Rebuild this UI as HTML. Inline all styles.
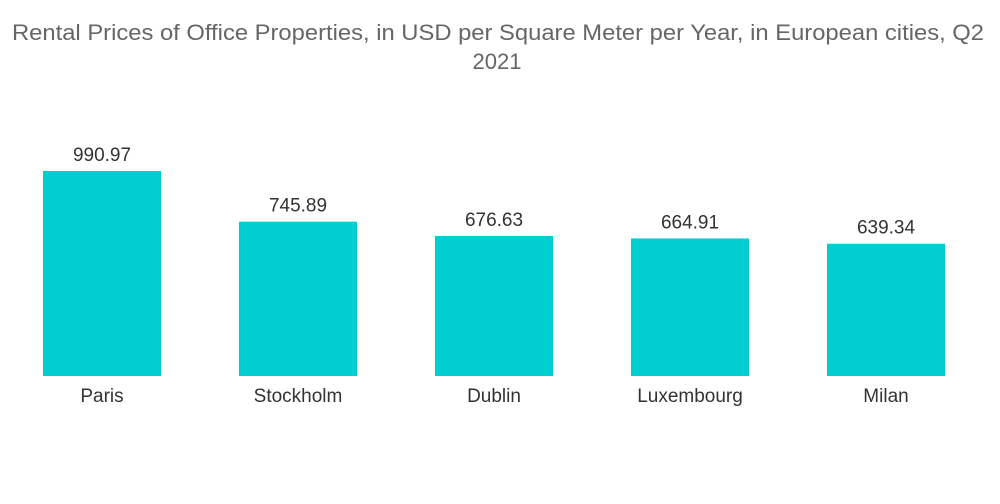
<!DOCTYPE html>
<html>
<head>
<meta charset="utf-8">
<style>
  body { margin:0; background:#fff; width:1000px; height:504px; overflow:hidden; font-family:"Liberation Sans", sans-serif; }
  svg { display:block; }
</style>
</head>
<body>
<svg id="chart" width="1000" height="504">
  <text x="12" y="40" textLength="972" lengthAdjust="spacingAndGlyphs" font-size="22" fill="#666">Rental Prices of Office Properties, in USD per Square Meter per Year, in European cities, Q2</text>
  <text x="497" y="69" text-anchor="middle" font-size="22" fill="#666">2021</text>
  <g id="bars"></g>
</svg>
<script>
const categories = ["Paris", "Stockholm", "Dublin", "Luxembourg", "Milan"];
const values = [990.97, 745.89, 676.63, 664.91, 639.34];
const valueLabels = ["990.97", "745.89", "676.63", "664.91", "639.34"];

const plotLeft = 4, bandW = 196, barW = 118, baseY = 376, scaleK = 205 / 990.97;
const xPos = i => plotLeft + i * bandW + (bandW - barW) / 2;
const yPos = v => baseY - v * scaleK;
const ns = "http://www.w3.org/2000/svg";
const g = document.getElementById("bars");
categories.forEach((c, i) => {
  const v = values[i];
  const r = document.createElementNS(ns, "rect");
  r.setAttribute("x", xPos(i));
  r.setAttribute("y", yPos(v));
  r.setAttribute("width", barW);
  r.setAttribute("height", baseY - yPos(v));
  r.setAttribute("fill", "#00ced1");
  
  
  g.appendChild(r);
  const t = document.createElementNS(ns, "text");
  t.setAttribute("x", xPos(i) + barW / 2);
  t.setAttribute("y", yPos(v) - 10);
  t.setAttribute("text-anchor", "middle");
  t.setAttribute("font-size", "19");
  t.setAttribute("fill", "#333");
  t.textContent = valueLabels[i];
  
  
  g.appendChild(t);
  const l = document.createElementNS(ns, "text");
  l.setAttribute("x", xPos(i) + barW / 2);
  l.setAttribute("y", 402);
  l.setAttribute("text-anchor", "middle");
  l.setAttribute("font-size", "19");
  l.setAttribute("fill", "#333");
  l.textContent = c;
  
  
  g.appendChild(l);
});
</script>
</body>
</html>
